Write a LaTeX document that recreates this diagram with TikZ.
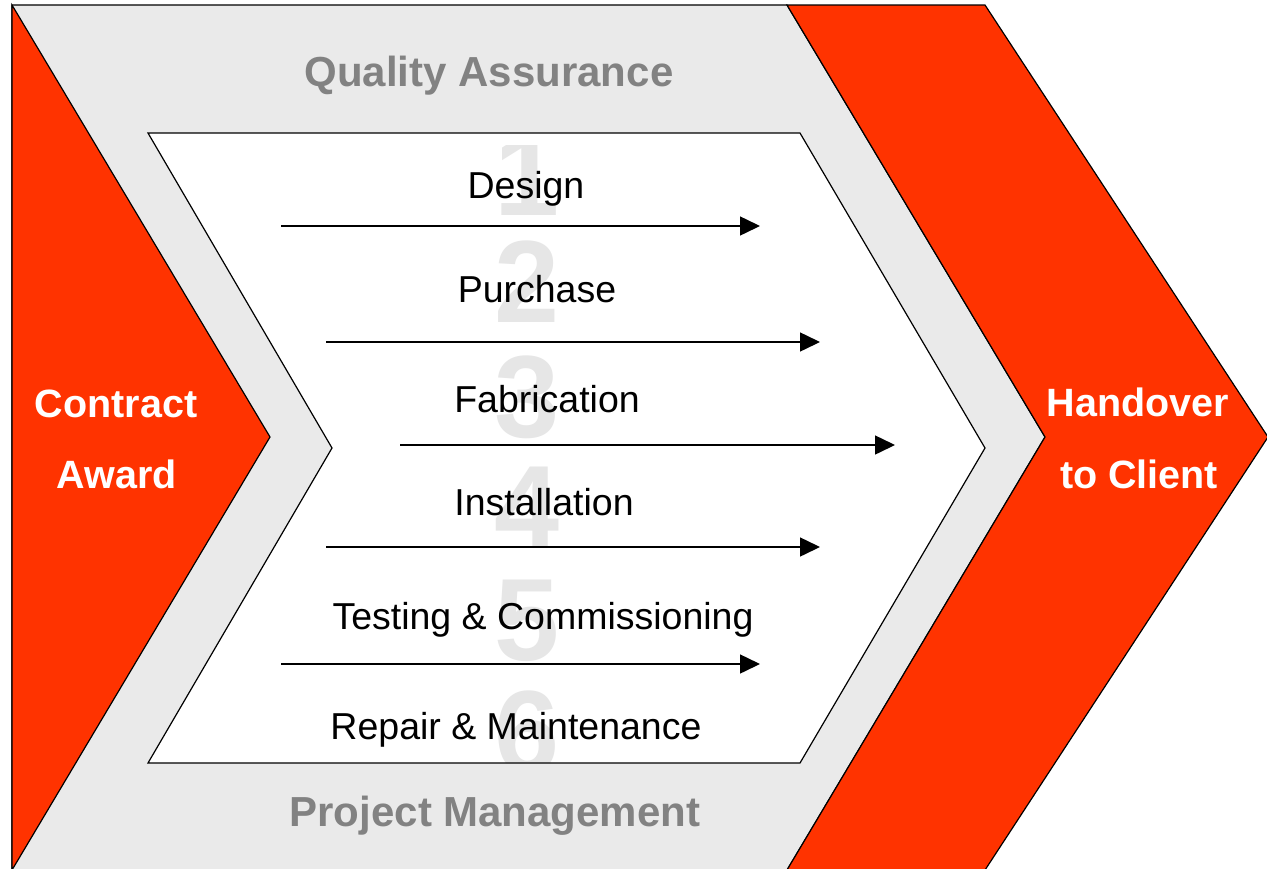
\documentclass[tikz,border=0pt]{standalone}
\usepackage{fontspec}
\setmainfont{Liberation Sans}
\usetikzlibrary{arrows.meta}
\definecolor{phasered}{HTML}{FF3300}
\definecolor{bandgray}{HTML}{EAEAEA}
\definecolor{labelgray}{HTML}{828282}
\definecolor{digitgray}{HTML}{E6E6E6}
\tikzset{
  outline/.style={draw=black, line width=1.2pt, line join=miter},
  stage/.style={font=\fontsize{37.5}{45}\selectfont, anchor=base, inner sep=0pt},
  band/.style={font=\bfseries\fontsize{42}{50}\selectfont, text=labelgray, anchor=base, inner sep=0pt},
  milestone/.style={font=\bfseries\fontsize{39.5}{48}\selectfont, text=white, anchor=base, inner sep=0pt},
  digit/.style={font=\bfseries\fontsize{117}{130}\selectfont, text=digitgray, anchor=base, inner sep=0pt},
  flow/.style={line width=1.5pt, -{Triangle[length=20pt,width=19pt]}}
}
\begin{document}
\begin{tikzpicture}[x=1pt,y=-1pt]
    \clip (0,0) rectangle (1267,868);
    \fill[white] (0,0) rectangle (1267,868);

    % bands and milestones
    \draw[outline, fill=bandgray] (12,5) -- (787,5) -- (1045,437) -- (787,870) -- (12,870) -- cycle;
    \draw[outline, fill=phasered] (12,5) -- (270,437) -- (12,870) -- cycle;
    \draw[outline, fill=phasered] (787,5) -- (985,5) -- (1268,437) -- (985,870) -- (787,870) -- (1045,437) -- cycle;

    % inner chevron with the step numbers
    \fill[white] (148,133) -- (800,133) -- (985,448) -- (800,763) -- (148,763) -- (332,448) -- cycle;
    \begin{scope}
      \clip (148,145) -- (800,145) -- (985,448) -- (800,763) -- (148,763) -- (332,448) -- cycle;
      \foreach \n/\y in {1/215,2/322,3/437,4/547,5/660,6/772}
        \node[digit] (num\n) at (527,\y) {\n};
    \end{scope}
    \draw[outline] (148,133) -- (800,133) -- (985,448) -- (800,763) -- (148,763) -- (332,448) -- cycle;

    \node[band] (qa) at (489,86) {Quality Assurance};
    \node[band] (pm) at (495,826) {Project Management};

    \node[milestone] (contract) at (116,417) {Contract};
    \node[milestone] (award) at (117,488) {Award};
    \node[milestone] (handover) at (1138,416) {Handover};
    \node[milestone] (client) at (1139,488) {to Client};

    \node[stage] (design) at (526,198) {Design};
    \node[stage] (purchase) at (537,302) {Purchase};
    \node[stage] (fabrication) at (547,412) {Fabrication};
    \node[stage] (installation) at (544,515) {Installation};
    \node[stage] (testing) at (543,629) {Testing \& Commissioning};
    \node[stage] (repair) at (516,739) {Repair \& Maintenance};

    % step arrows
    \foreach \n/\a/\b/\y in {1/281/760/226, 2/326/820/342, 3/400/895/445, 4/326/820/547, 5/281/760/664} {
      \coordinate (s\n) at (\a,\y);
      \coordinate (e\n) at (\b,\y);
      \draw[flow] (s\n) -- (e\n);
    }
\end{tikzpicture}
\end{document}
